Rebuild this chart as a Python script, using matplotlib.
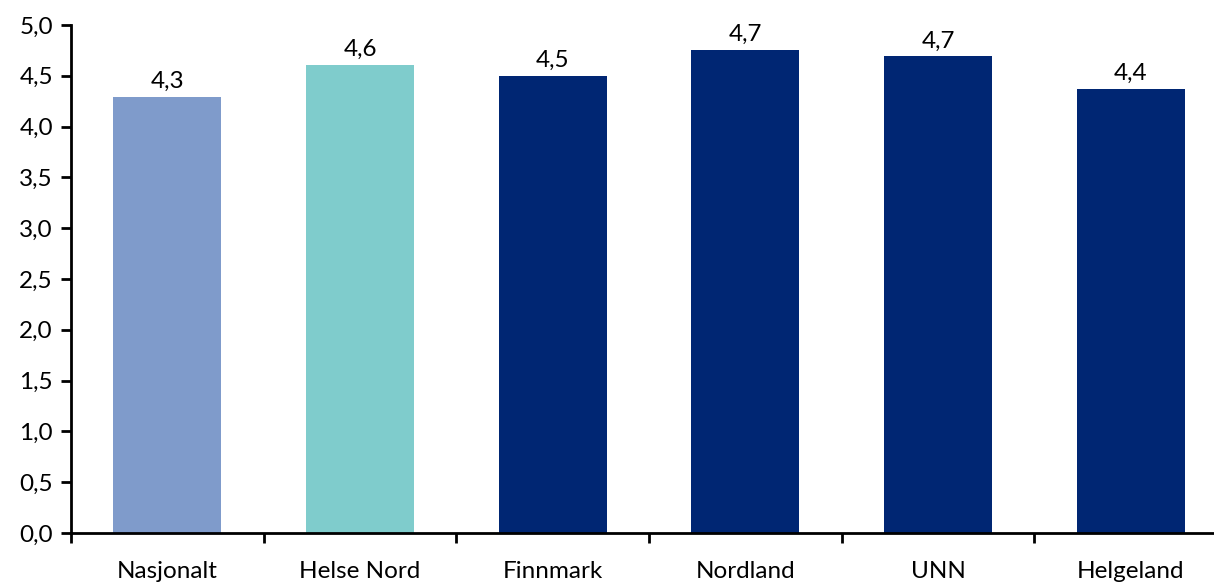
import matplotlib.pyplot as plt
import numpy as np

categories = ["Nasjonalt", "Helse Nord", "Finnmark", "Nordland", "UNN", "Helgeland"]
values = [4.29, 4.61, 4.50, 4.75, 4.69, 4.37]
value_labels = ["4,3", "4,6", "4,5", "4,7", "4,7", "4,4"]
colors = ["#7F9BCB", "#7FCCCC", "#002673", "#002673", "#002673", "#002673"]
yticks = np.arange(0, 5.01, 0.5)

plt.rcParams["font.family"] = ["Lato", "DejaVu Sans"]

fig = plt.figure(figsize=(12.14, 5.86), dpi=100)
ax = fig.add_axes([71 / 1214, 53 / 586, 1156 / 1214, 508 / 586])

x = np.arange(len(categories))
bars = ax.bar(x, values, width=0.56, color=colors, zorder=2)

for xi, v, lab in zip(x, values, value_labels):
    ax.text(xi, v + 0.05, lab, ha="center", va="bottom", fontsize=17.5, color="#000000")

ax.set_xlim(-0.5, len(categories) - 0.5)
ax.set_ylim(0, 5)
ax.set_yticks(yticks)
ax.set_yticklabels([f"{t:.1f}".replace(".", ",") for t in yticks], fontsize=17.5)

# category boundary ticks on x axis
ax.set_xticks(np.arange(len(categories) + 1) - 0.5)
ax.set_xticklabels([])
ax.set_xticks(x, minor=True)
ax.set_xticklabels(categories, minor=True, fontsize=17.5)
ax.tick_params(axis="x", which="minor", length=0, pad=20)
ax.tick_params(axis="x", which="major", length=7, width=2, direction="out")
ax.tick_params(axis="y", length=7, width=2, direction="out", pad=6)

for side in ["top", "right"]:
    ax.spines[side].set_visible(False)
for side in ["left", "bottom"]:
    ax.spines[side].set_linewidth(2)

fig.savefig("out.png", dpi=100)
